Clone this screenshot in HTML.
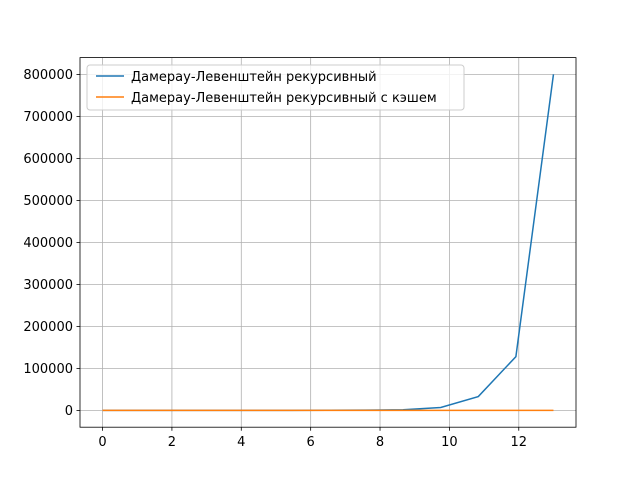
<!DOCTYPE html>
<html><head><meta charset="utf-8"><style>
body{margin:0;background:#fff}
svg text{font-family:"DejaVu Sans","Liberation Sans",sans-serif;font-size:13px;fill:#000}
</style></head><body>
<svg width="640" height="480" xmlns="http://www.w3.org/2000/svg">
<rect width="640" height="480" fill="#fff"/>
<g id="grid"></g>
<g id="ticks"></g>
<g id="series"></g>
<rect x="80" y="57.6" width="496" height="369.6" fill="none" stroke="#000" stroke-width="0.8"/>
<g>
<rect x="87" y="65" width="377" height="45" rx="3" fill="#fff" fill-opacity="0.8" stroke="#ccc"/>
<g>
<line x1="96" y1="76" x2="124" y2="76" stroke="#1f77b4" stroke-width="1.5"/>
<text x="131" y="81">Дамерау-Левенштейн рекурсивный</text></g>
<g>
<line x1="96" y1="97" x2="124" y2="97" stroke="#ff7f0e" stroke-width="1.5"/>
<text x="131" y="102">Дамерау-Левенштейн рекурсивный с кэшем</text></g>
</g>
</svg>
<script>
const xValues=[0,1.083,2.167,3.25,4.333,5.417,6.5,7.583,8.667,9.75,10.833,11.917,13];
const recursiveValues=[1,3,8,20,50,120,300,700,1500,7000,33000,128000,800000];
const cachedValues=[0,0,0,0,0,0,0,0,0,0,0,0,0];
const xTicks=[0,2,4,6,8,10,12];
const yTicks=[0,100000,200000,300000,400000,500000,600000,700000,800000];
const ns="http://www.w3.org/2000/svg";
const X=v=>80+(v+0.65)/14.3*496;
const Y=v=>427.2-(v+40000)/880000*369.6;
function mk(t,a,p){const e=document.createElementNS(ns,t);for(const k in a)e.setAttribute(k,a[k]);p.appendChild(e);return e;}
const g=document.getElementById('grid'),tk=document.getElementById('ticks'),s=document.getElementById('series');
xTicks.forEach(v=>{const x=X(v);
const l=mk('line',{x1:x,x2:x,y1:57.6,y2:427.2,stroke:'#b0b0b0','stroke-width':0.8},g);


mk('line',{x1:x,x2:x,y1:427.2,y2:430.7,stroke:'#000','stroke-width':0.8},tk);
const t=mk('text',{x:x,y:446,'text-anchor':'middle'},tk);t.textContent=v;

});
yTicks.forEach(v=>{const y=Y(v);
const l=mk('line',{x1:80,x2:576,y1:y,y2:y,stroke:'#b0b0b0','stroke-width':0.8},g);


mk('line',{x1:76.5,x2:80,y1:y,y2:y,stroke:'#000','stroke-width':0.8},tk);
const t=mk('text',{x:73,y:y+4.5,'text-anchor':'end'},tk);t.textContent=v;

});
function line(vals,c,name){const p=mk('polyline',{points:xValues.map((x,i)=>X(x)+','+Y(vals[i])).join(' '),fill:'none',stroke:c,'stroke-width':1.5},s);

}
line(recursiveValues,'#1f77b4','line-recursive');
line(cachedValues,'#ff7f0e','line-cached');
</script>
</body></html>
